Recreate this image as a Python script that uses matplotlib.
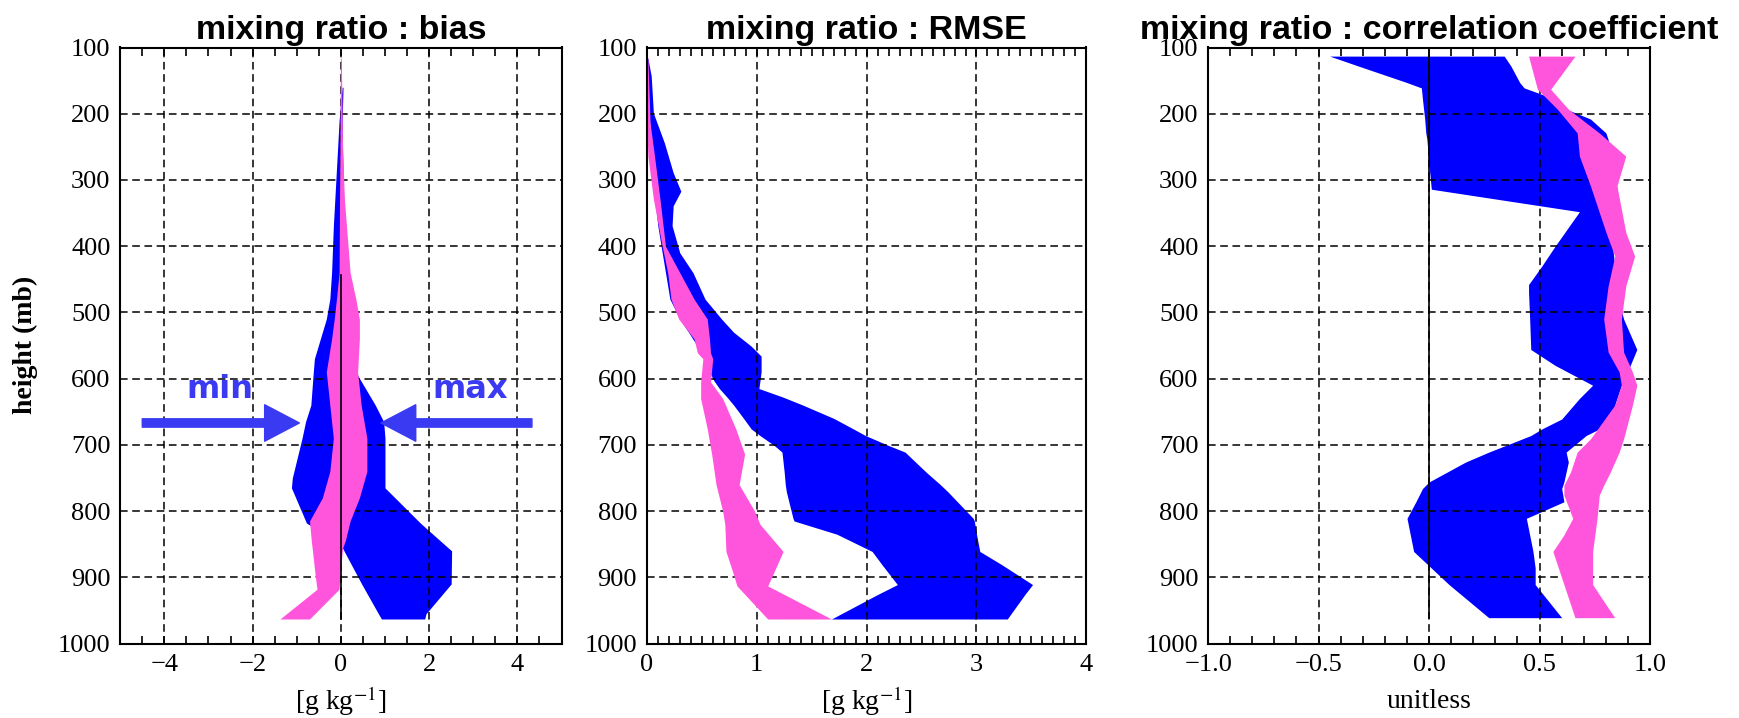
import numpy as np
import matplotlib
matplotlib.use("Agg")
import matplotlib.pyplot as plt
from matplotlib.ticker import MultipleLocator

plt.rcParams['font.family'] = ['Liberation Serif', 'DejaVu Serif']
plt.rcParams['mathtext.fontset'] = 'stix'

BLUE = '#0000ff'
PINK = '#ff55dc'
NOTE = '#3a3af2'

# ---- bias panel ----
bias_blue_p = [160, 210, 260, 370, 440, 480, 510, 530, 570, 595, 640, 665, 690, 750,
               765, 818, 830, 856, 860, 910, 955, 963]
bias_blue_min = [0.03, -0.04, -0.08, -0.17, -0.21, -0.25, -0.33, -0.42, -0.6, -0.63, -0.68,
                 -0.8, -0.88, -1.1, -1.12, -0.78, -0.5, 0.04, 0.07, 0.47, 0.85, 0.92]
bias_blue_max = [0.05, 0.03, 0.04, 0.08, 0.12, 0.2, 0.25, 0.3, 0.35, 0.38, 0.78, 0.97,
                 1.0, 1.0, 1.0, 1.8, 2.0, 2.44, 2.51, 2.5, 1.93, 1.9]
bias_pink_p = [116, 254, 329, 440, 480, 510, 540, 590, 640, 690, 740, 780, 815, 845,
               856, 898, 918, 963]
bias_pink_min = [-0.01, -0.02, -0.03, -0.04, -0.1, -0.15, -0.21, -0.33, -0.25, -0.17, -0.25,
                 -0.42, -0.71, -0.67, -0.65, -0.58, -0.54, -1.38]
bias_pink_max = [0.01, 0.04, 0.08, 0.21, 0.34, 0.42, 0.42, 0.38, 0.46, 0.59, 0.59, 0.42,
                 0.21, 0.1, 0.04, -0.02, -0.04, -0.71]
bias_zero_p = [443, 963]

# ---- RMSE panel ----
rmse_blue_p = [116, 143, 199, 244, 289, 317, 339, 369, 410, 440, 480, 510, 530, 551, 566,
               590, 603, 615, 628, 640, 660, 676, 686, 701, 711, 741, 760, 771, 811, 815,
               835, 861, 881, 911, 926, 963]
rmse_blue_min = [0.0, 0.0, 0.02, 0.04, 0.06, 0.07, 0.08, 0.1, 0.14, 0.17, 0.21, 0.3, 0.38,
                 0.46, 0.51, 0.57, 0.61, 0.66, 0.73, 0.79, 0.88, 0.95, 1.03, 1.16, 1.23,
                 1.25, 1.26, 1.27, 1.33, 1.34, 1.73, 2.05, 2.14, 2.28, 2.1, 1.68]
rmse_blue_max = [0.01, 0.04, 0.06, 0.16, 0.24, 0.31, 0.24, 0.23, 0.30, 0.42, 0.53, 0.68,
                 0.79, 0.95, 1.04, 1.04, 1.03, 1.02, 1.24, 1.42, 1.70, 1.88, 1.99, 2.2,
                 2.35, 2.54, 2.67, 2.74, 2.97, 2.98, 3.0, 3.03, 3.23, 3.51, 3.44, 3.28]
rmse_pink_p = [116, 214, 264, 329, 400, 440, 480, 510, 540, 561, 570, 605, 630, 676, 714,
               760, 800, 820, 861, 891, 913, 963]
rmse_pink_min = [0.0, 0.0, 0.01, 0.06, 0.14, 0.19, 0.22, 0.29, 0.43, 0.46, 0.51, 0.49, 0.49,
                 0.55, 0.59, 0.63, 0.69, 0.71, 0.72, 0.78, 0.82, 1.10]
rmse_pink_max = [0.01, 0.03, 0.07, 0.12, 0.17, 0.30, 0.43, 0.55, 0.57, 0.58, 0.60, 0.58,
                 0.69, 0.81, 0.89, 0.84, 0.98, 1.03, 1.24, 1.16, 1.10, 1.68]

# ---- correlation panel ----
corr_blue_p = [113, 128, 153, 161, 178, 193, 208, 229, 239, 279, 314, 348, 400, 430, 458,
               470, 510, 556, 580, 610, 630, 661, 676, 686, 711, 726, 756, 766, 786, 811,
               861, 886, 911, 961]
corr_blue_min = [-0.45, -0.32, -0.10, -0.035, -0.03, -0.025, -0.02, -0.015, -0.01, 0.0,
                 0.01, 0.68, 0.57, 0.51, 0.45, 0.45, 0.455, 0.46, 0.57, 0.74, 0.68, 0.60,
                 0.51, 0.46, 0.27, 0.165, 0.0, -0.03, -0.06, -0.1, -0.07, 0.01, 0.09, 0.27]
corr_blue_max = [0.34, 0.37, 0.41, 0.43, 0.57, 0.62, 0.73, 0.80, 0.81, 0.84, 0.85, 0.85,
                 0.83, 0.84, 0.85, 0.85, 0.88, 0.94, 0.91, 0.87, 0.85, 0.82, 0.77, 0.71,
                 0.62, 0.63, 0.61, 0.60, 0.61, 0.44, 0.47, 0.48, 0.48, 0.60]
corr_pink_p = [113, 163, 193, 229, 264, 309, 379, 415, 460, 510, 560, 590, 610, 640, 691,
               711, 741, 761, 776, 811, 836, 861, 911, 941, 961]
corr_pink_min = [0.45, 0.49, 0.58, 0.67, 0.68, 0.73, 0.80, 0.84, 0.81, 0.79, 0.81, 0.86,
                 0.87, 0.84, 0.73, 0.67, 0.64, 0.61, 0.61, 0.65, 0.61, 0.56, 0.61, 0.64, 0.66]
corr_pink_max = [0.66, 0.55, 0.63, 0.77, 0.89, 0.85, 0.89, 0.93, 0.89, 0.87, 0.88, 0.92,
                 0.94, 0.92, 0.88, 0.86, 0.82, 0.79, 0.77, 0.76, 0.75, 0.74, 0.74, 0.80, 0.84]
corr_zero_p = [113, 961]

yticks = [100, 200, 300, 400, 500, 600, 700, 800, 900, 1000]

titles = ['mixing ratio : bias', 'mixing ratio : RMSE',
          'mixing ratio : correlation coefficient']
xlabels = [r'[g kg$^{-1}$]', r'[g kg$^{-1}$]', 'unitless']
xlims = [(-5, 5), (0, 4), (-1, 1)]
xticks = [[-4, -2, 0, 2, 4], [0, 1, 2, 3, 4], [-1.0, -0.5, 0.0, 0.5, 1.0]]
xticklabels = [['\u22124', '\u22122', '0', '2', '4'], ['0', '1', '2', '3', '4'],
               ['\u22121.0', '\u22120.5', '0.0', '0.5', '1.0']]
minor_steps = [0.5, 0.1, 0.1]

fig = plt.figure(figsize=(17.4, 7.18), dpi=100)
W, H = 1740, 718
lefts = [120.2, 646.8, 1208.1]
widths = [441.3, 439.6, 442.0]
top_px, bot_px = 47.5, 643.5

axes = []
for i in range(3):
    ax = fig.add_axes([lefts[i] / W, 1 - bot_px / H, widths[i] / W, (bot_px - top_px) / H])
    axes.append(ax)

panels = [
    (bias_blue_p, bias_blue_min, bias_blue_max, bias_pink_p, bias_pink_min, bias_pink_max),
    (rmse_blue_p, rmse_blue_min, rmse_blue_max, rmse_pink_p, rmse_pink_min, rmse_pink_max),
    (corr_blue_p, corr_blue_min, corr_blue_max, corr_pink_p, corr_pink_min, corr_pink_max),
]

for i, ax in enumerate(axes):
    bp, bmin, bmax, pp, pmin, pmax = panels[i]
    ax.fill_betweenx(bp, bmin, bmax, color=BLUE, lw=0, zorder=2)
    ax.fill_betweenx(pp, pmin, pmax, color=PINK, lw=0, zorder=3)

    ax.set_xlim(*xlims[i])
    ax.set_ylim(1000, 100)
    ax.set_yticks(yticks)
    ax.set_yticklabels([str(v) for v in yticks])
    ax.set_xticks(xticks[i])
    ax.set_xticklabels(xticklabels[i])
    ax.xaxis.set_minor_locator(MultipleLocator(minor_steps[i]))

    ax.tick_params(axis='y', which='both', length=0, pad=7, labelsize=19)
    ax.tick_params(axis='x', which='both', direction='in', top=True, bottom=True,
                   length=6, width=1.2, pad=7.5, labelsize=19)

    ax.grid(True, which='major', color='black', linestyle=(0, (5, 3)), linewidth=1.1)
    ax.set_axisbelow(False)
    for gl in ax.get_xgridlines() + ax.get_ygridlines():
        gl.set_zorder(5)

    for s in ax.spines.values():
        s.set_linewidth(1.5)
        s.set_zorder(6)

    ax.set_title(titles[i], fontsize=24.5, fontweight='bold',
                 family=['Liberation Sans', 'DejaVu Sans'], pad=6)
    ax.set_xlabel(xlabels[i], fontsize=20, va='center')
    ax.xaxis.set_label_coords(0.5, -(701 - bot_px) / (bot_px - top_px))

axes[0].plot([0, 0], bias_zero_p, color='black', lw=1.2, zorder=4)
axes[2].plot([0, 0], corr_zero_p, color='black', lw=1.2, zorder=4)

fig.text(25 / W, 1 - 345 / H, 'height (mb)', rotation=90, ha='center', va='center',
         fontsize=20, fontweight='bold')

# min / max annotations
arrow = dict(arrowstyle='simple,head_length=1.0,head_width=1.05,tail_width=0.24',
             color=NOTE, shrinkA=0, shrinkB=0, mutation_scale=25)
axes[0].annotate('', xy=(-0.94, 667), xytext=(-4.5, 667), arrowprops=arrow, zorder=7)
axes[0].annotate('', xy=(0.91, 667), xytext=(4.33, 667), arrowprops=arrow, zorder=7)
axes[0].text(-2.75, 617, 'min', color=NOTE, fontsize=23, fontweight='bold',
             ha='center', va='center', family=['DejaVu Sans'], zorder=7)
axes[0].text(2.92, 617, 'max', color=NOTE, fontsize=23, fontweight='bold',
             ha='center', va='center', family=['DejaVu Sans'], zorder=7)

fig.savefig('out.png', dpi=100)
